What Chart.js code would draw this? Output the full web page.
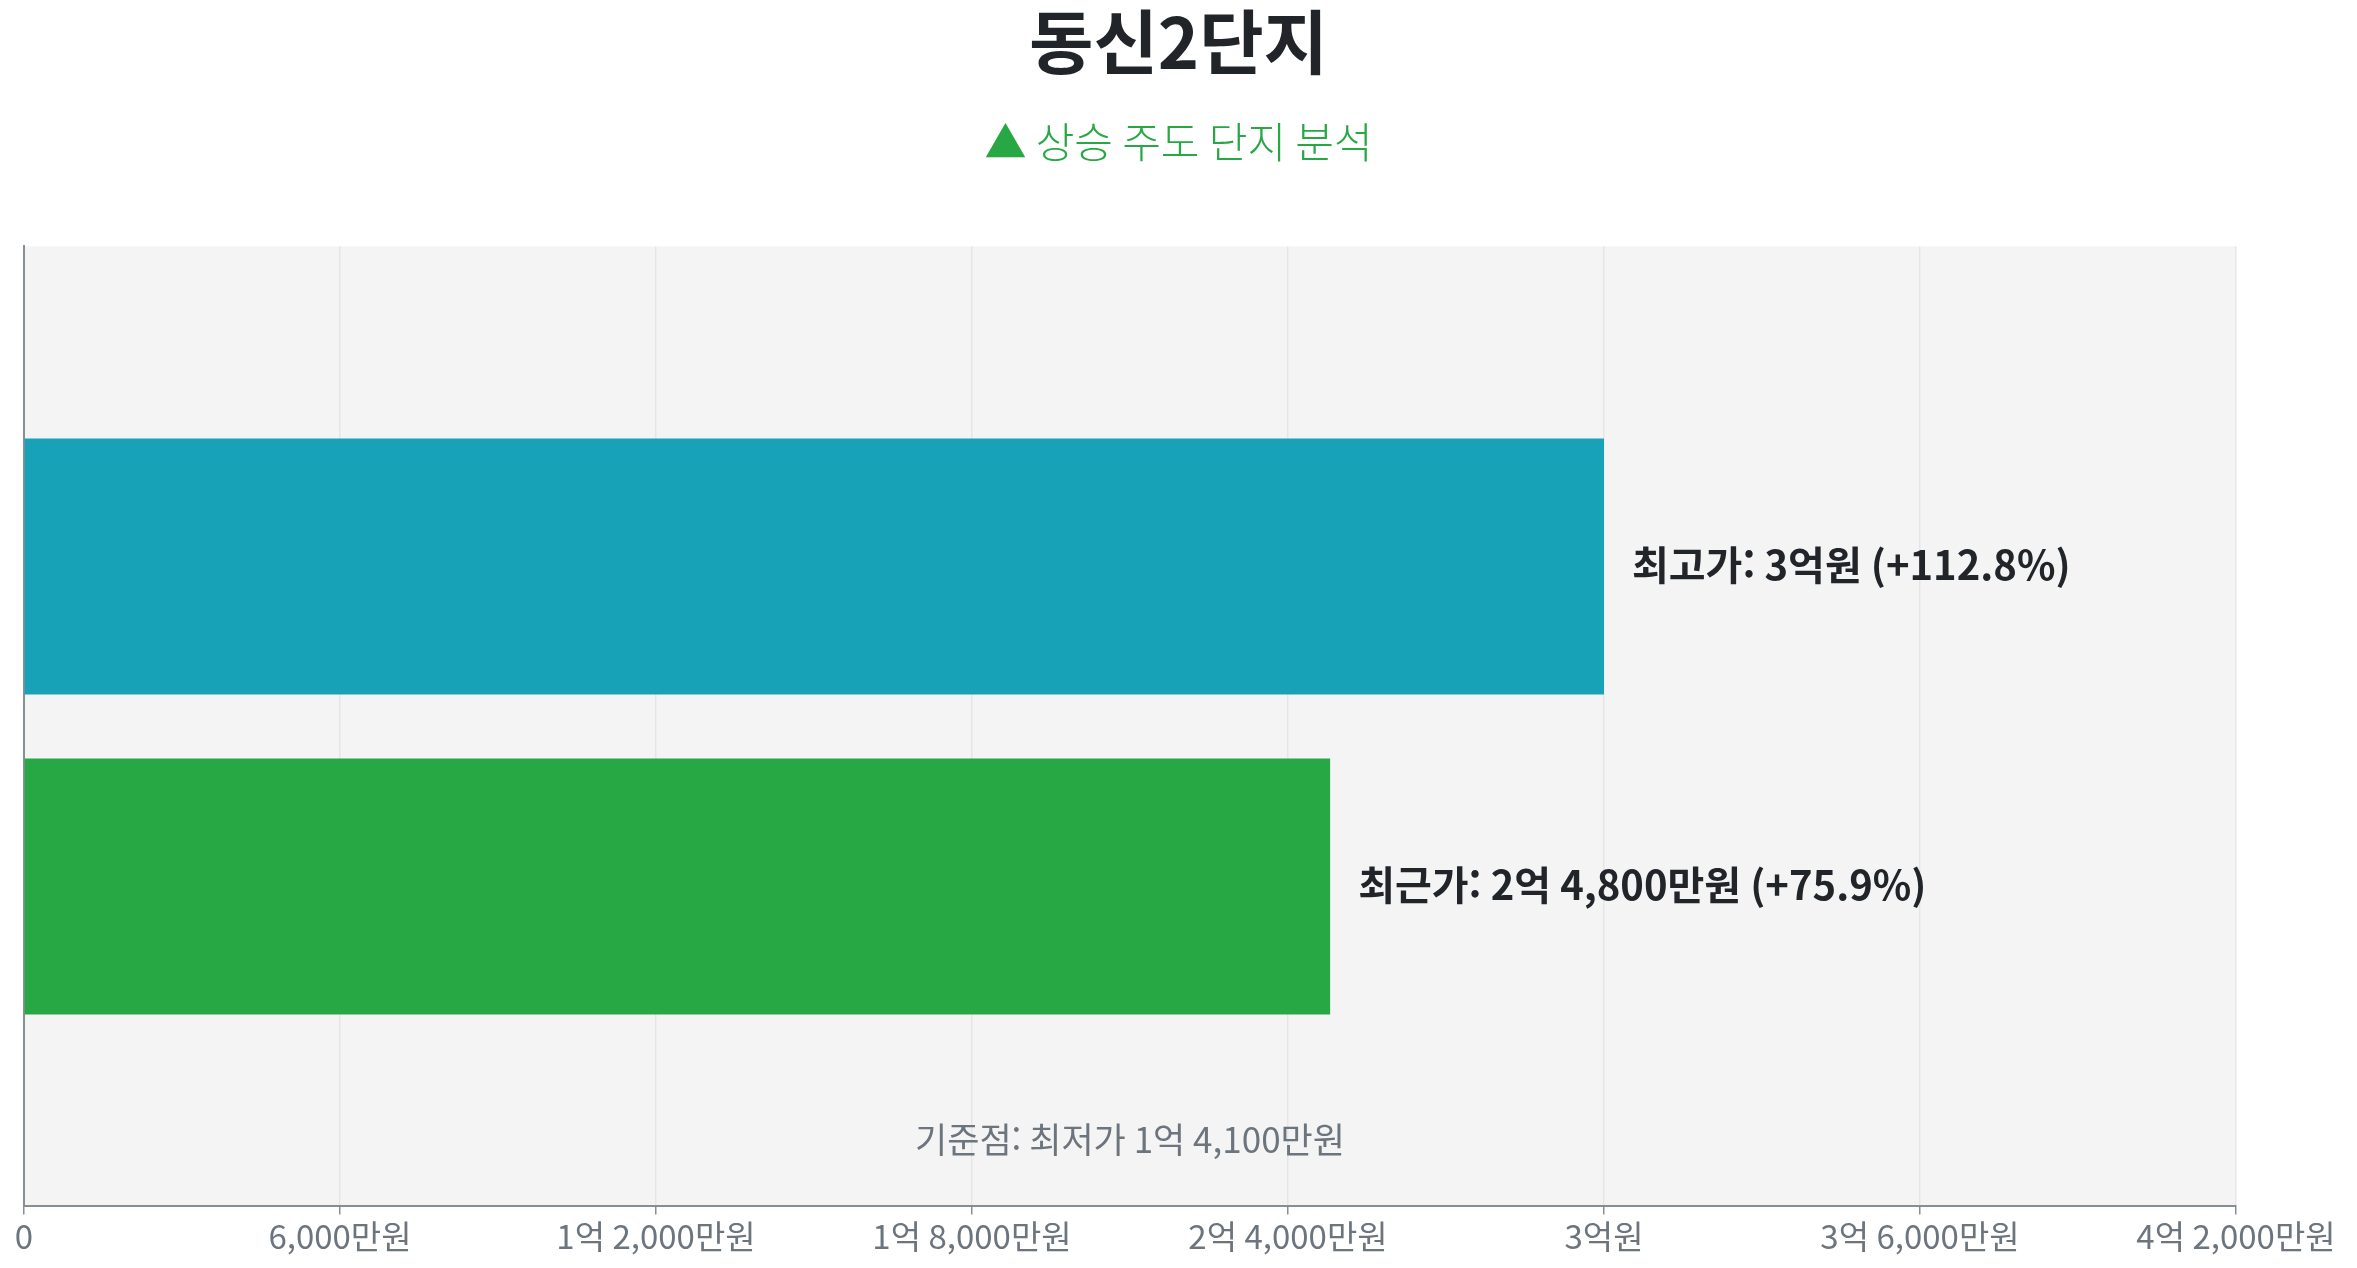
<!DOCTYPE html>
<html lang="ko">
<head>
<meta charset="utf-8">
<title>동신2단지</title>
<script src="https://cdn.jsdelivr.net/npm/chart.js@4.4.1/dist/chart.umd.min.js"></script>
<style>
  html, body { margin: 0; padding: 0; background: #fff; }
  #wrap { width: 100vw; height: 100vh; }
</style>
</head>
<body>
<div id="wrap"><canvas id="myChart"></canvas></div>
<script>
'use strict'

// data (만원 단위)
const categories = ['', '최고가', '최근가', ''];
const prices = [null, 30000, 24800, null];
const basePrice = 14100;
const tickValues = [0, 6000, 12000, 18000, 24000, 30000, 36000, 42000];

const fontStack = '"Noto Sans CJK KR", "Noto Sans", sans-serif';

// 만원 -> "1억 2,000만원"
function formatWon(v) {
  if (v === 0) return '0';
  let eok = Math.floor(v / 10000);
  let man = v % 10000;
  if (eok > 0 && man > 0) return eok + '억 ' + man.toLocaleString('en-US') + '만원';
  if (eok > 0) return eok + '억원';
  return man.toLocaleString('en-US') + '만원';
}

function pctChange(v) {
  return ((v / basePrice - 1) * 100).toFixed(1);
}

Chart.defaults.font.family = fontStack;

// grey panel behind the bars
const areaBg = {
  id: 'areaBg',
  beforeDraw(chart) {
    const {ctx, chartArea} = chart;
    ctx.save();
    ctx.fillStyle = '#f4f4f4';
    ctx.fillRect(chartArea.left, chartArea.top, chartArea.right - chartArea.left, chartArea.bottom - chartArea.top);
    ctx.restore();
  }
};

// value labels + baseline note
const barText = {
  id: 'barText',
  afterDatasetsDraw(chart) {
    const {ctx, chartArea} = chart;
    const meta = chart.getDatasetMeta(0);
    ctx.save();
    ctx.font = 'bold 40px ' + fontStack;
    ctx.fillStyle = '#212529';
    ctx.textAlign = 'left';
    ctx.textBaseline = 'middle';
    meta.data.forEach((bar, i) => {
      let v = prices[i];
      if (v === null) return;
      let text = categories[i] + ': ' + formatWon(v) + ' (+' + pctChange(v) + '%)';
      ctx.fillText(text, bar.x + 28, bar.y - 2);
    });
    ctx.font = '35px ' + fontStack;
    ctx.fillStyle = '#6c757d';
    ctx.textAlign = 'center';
    ctx.fillText('기준점: 최저가 ' + formatWon(basePrice), (chartArea.left + chartArea.right) / 2, chartArea.bottom - 67);
    ctx.restore();
  }
};

const data = {
  labels: categories,
  datasets: [{
    data: prices,
    backgroundColor: ['#17a2b8', '#17a2b8', '#28a745', '#28a745'],
    borderWidth: 0,
    barPercentage: 0.8,
    categoryPercentage: 1.0
  }]
};

const config = {
  type: 'bar',
  data: data,
  options: {
    indexAxis: 'y',
    responsive: true,
    maintainAspectRatio: false,
    animation: false,
    layout: {
      padding: { left: 24, right: 24, top: 0, bottom: 10 }
    },
    plugins: {
      legend: { display: false },
      tooltip: { enabled: false },
      title: {
        display: true,
        text: '동신2단지',
        color: '#212529',
        font: { size: 70, weight: 'bold' },
        padding: { top: 0, bottom: 20 }
      },
      subtitle: {
        display: true,
        text: '▲ 상승 주도 단지 분석',
        color: '#28a745',
        font: { size: 42, weight: 300 },
        padding: { top: 13, bottom: 79 }
      }
    },
    scales: {
      x: {
        min: 0,
        max: 42000,
        afterBuildTicks(axis) {
          axis.ticks = tickValues.map(v => ({ value: v }));
        },
        afterFit(axis) {
          // room on the right like the original panel
          axis.paddingRight = 121;
        },
        ticks: {
          color: '#6c757d',
          font: { size: 33 },
          padding: 2,
          callback: value => formatWon(value)
        },
        grid: {
          color: '#e6e6e6',
          tickColor: '#868e96',
          tickLength: 8,
          lineWidth: 1.5
        },
        border: { display: true, color: '#868e96', width: 2 }
      },
      y: {
        type: 'category',
        offset: false,
        ticks: { display: false },
        grid: { display: false, drawTicks: false },
        border: { display: true, color: '#868e96', width: 2 }
      }
    }
  },
  plugins: [areaBg, barText]
};

let canvasChart = document.getElementById('myChart');
const myChart = new Chart(canvasChart, config);
</script>
</body>
</html>
